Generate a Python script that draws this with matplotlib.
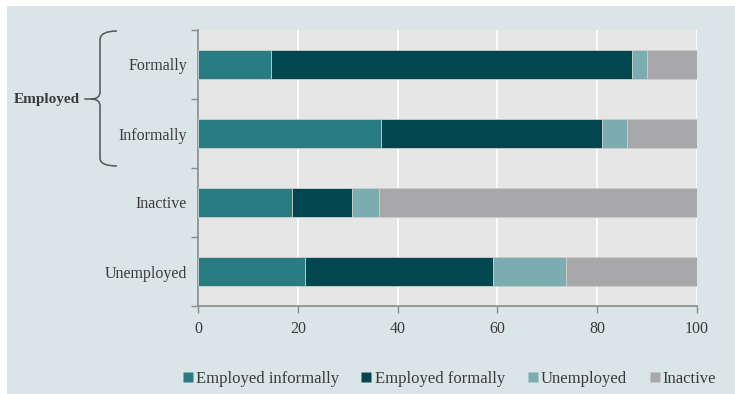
import matplotlib
matplotlib.use("Agg")
import matplotlib.pyplot as plt
from matplotlib.path import Path
from matplotlib.patches import PathPatch, Rectangle
from matplotlib.lines import Line2D
import numpy as np

categories = ["Formally", "Informally", "Inactive", "Unemployed"]
series_names = ["Employed informally", "Employed formally", "Unemployed", "Inactive"]
emp_informal = [14.7, 36.7, 18.9, 21.4]
emp_formal = [72.3, 44.3, 11.9, 37.8]
unemployed = [3.0, 5.0, 5.5, 14.6]
inactive = [10.0, 14.0, 63.7, 26.2]
series = [emp_informal, emp_formal, unemployed, inactive]
colors = ["#2a7c83", "#02464f", "#7aacb0", "#a8a8ab"]
xticks = [0, 20, 40, 60, 80, 100]

W, H = 735, 394
plt.rcParams['font.family'] = ['Liberation Serif', 'DejaVu Serif']
txt = "#3b3b3b"

fig = plt.figure(figsize=(W / 100, H / 100), dpi=100)
fig.patch.set_facecolor("white")
fig.patches.append(Rectangle((7 / W, 0), 1 - 7 / W, 1 - 6 / H, transform=fig.transFigure,
                             facecolor="#d9e5e7", edgecolor="none", zorder=-10))

def fx(x):
    return x / W

def fy(y):
    return 1 - y / H

ax = fig.add_axes([fx(198), fy(306), fx(697) - fx(198), fy(30) - fy(306)])
ax.set_facecolor("#e6e6e6")

y = np.arange(len(categories))
left = np.zeros(len(categories))
for vals, col, name in zip(series, colors, series_names):
    ax.barh(y, vals, left=left, height=0.42, color=col, edgecolor="#cdcdcd",
            linewidth=0.6, label=name, zorder=3)
    left += np.array(vals)

ax.set_xlim(0, 100)
ax.set_ylim(3.5, -0.5)
ax.set_xticks(xticks)
ax.set_xticklabels([str(t) for t in xticks])
ax.set_yticks(y)
ax.set_yticklabels(categories)
ax.set_yticks(np.arange(-0.5, 3.6, 1), minor=True)
ax.tick_params(axis="y", which="major", length=0, pad=8, labelsize=11.5, labelcolor=txt)
ax.tick_params(axis="y", which="minor", length=5, color="#8a8a8a", width=1)
ax.tick_params(axis="x", which="major", length=5, color="#8a8a8a", width=1,
               labelsize=11.5, labelcolor=txt, pad=6)
ax.grid(axis="x", color="white", linewidth=1.2, zorder=0)
ax.set_axisbelow(True)
for s in ["top", "right"]:
    ax.spines[s].set_visible(False)
for s in ["left", "bottom"]:
    ax.spines[s].set_color("#8a8a8a")
    ax.spines[s].set_linewidth(1.2)

# Brace for "Employed"
verts = [
    (fx(117), fy(31)), (fx(100), fy(31)), (fx(100), fy(40)),
    (fx(100), fy(92)),
    (fx(100), fy(99)), (fx(91), fy(99)),
    (fx(100), fy(99)), (fx(100), fy(106)),
    (fx(100), fy(158)),
    (fx(100), fy(166)), (fx(117), fy(166)),
]
codes = [Path.MOVETO, Path.CURVE3, Path.CURVE3, Path.LINETO,
         Path.CURVE3, Path.CURVE3, Path.CURVE3, Path.CURVE3,
         Path.LINETO, Path.CURVE3, Path.CURVE3]
fig.patches.append(PathPatch(Path(verts, codes), transform=fig.transFigure,
                             facecolor="none", edgecolor="#555555", linewidth=1.1))
fig.lines.append(Line2D([fx(85), fx(92)], [fy(99), fy(99)], transform=fig.transFigure,
                        color="#555555", linewidth=1.1))
fig.text(fx(80), fy(99), "Employed", ha="right", va="center", fontsize=11,
         color=txt, fontweight="semibold")

handles = [Line2D([], [], marker="s", linestyle="none", markersize=7.5,
                  markerfacecolor=c, markeredgecolor="none") for c in colors]
leg = fig.legend(handles, series_names, loc="center", bbox_to_anchor=(fx(449), fy(379)),
                 ncol=4, frameon=False, fontsize=12, handletextpad=0.15,
                 columnspacing=1.3, handlelength=0.7, borderaxespad=0)
for t in leg.get_texts():
    t.set_color(txt)

fig.savefig("out.png", dpi=100, facecolor=fig.get_facecolor())
